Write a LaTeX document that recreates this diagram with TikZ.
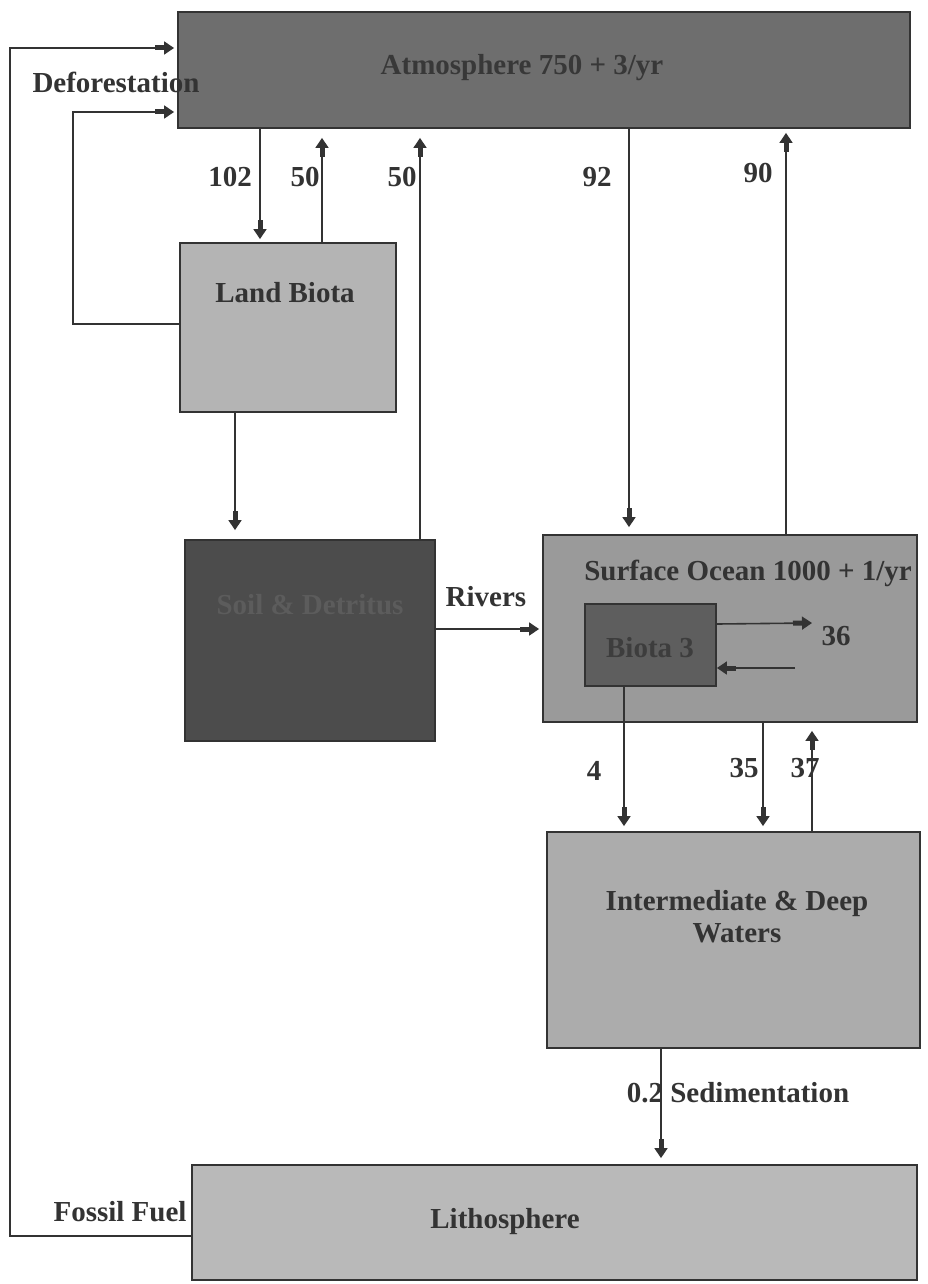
\documentclass[tikz,border=0pt]{standalone}
\usepackage{fontspec}
\setmainfont{Liberation Serif}
\usetikzlibrary{arrows.meta,calc}
\definecolor{atmc}{HTML}{6E6E6E}
\definecolor{lbc}{HTML}{B4B4B4}
\definecolor{soilc}{HTML}{4C4C4C}
\definecolor{soc}{HTML}{9A9A9A}
\definecolor{bioc}{HTML}{5E5E5E}
\definecolor{deepc}{HTML}{ACACAC}
\definecolor{lithc}{HTML}{B9B9B9}
\definecolor{ink}{HTML}{333333}
\begin{document}
\begin{tikzpicture}[x=1pt,y=-1pt,
  box/.style={draw=ink,line width=1.8pt,inner sep=0pt},
  lbl/.style={font=\fontsize{29}{32}\selectfont\bfseries,text=ink,inner sep=0pt},
  arr/.style={line width=1.6pt,draw=ink,
    -{Rectangle[length=9pt,width=5pt,sep=0pt]Triangle[length=10pt,width=13pt]},shorten >=3pt},
  ln/.style={line width=1.6pt,draw=ink}]
\useasboundingbox[fill=white] (0,0) rectangle (928,1284);
% boxes
\node[box,fill=atmc,minimum width=732pt,minimum height=116pt] (atm) at (544,70) {};
\node[box,fill=lbc,minimum width=216pt,minimum height=169pt] (lb) at (288,327.5) {};
\node[box,fill=soilc,minimum width=250pt,minimum height=201pt] (soil) at (310,640.5) {};
\node[box,fill=soc,minimum width=374pt,minimum height=187pt] (so) at (730,628.5) {};
\node[box,fill=bioc,minimum width=131pt,minimum height=82pt] (bio) at (650.5,645) {};
\node[box,fill=deepc,minimum width=373pt,minimum height=216pt] (deep) at (733.5,940) {};
\node[box,fill=lithc,minimum width=725pt,minimum height=115pt] (lith) at (554.5,1222.5) {};
% box texts
\node[lbl,text=black!78] (atmT) at (522,68) {Atmosphere 750 + 3/yr};
\node[lbl] (lbT) at (285,293) {Land Biota};
\node[lbl,text=black!64] (soilT) at (310,605) {Soil \& Detritus};
\node[lbl] (soT) at (748,573) {Surface Ocean 1000 + 1/yr};
\node[lbl,text=black!76] (bioT) at (650,648) {Biota 3};
\node[lbl,align=center] (deepT) at (737,917) {Intermediate \& Deep\\Waters};
\node[lbl] (lithT) at (505,1222) {Lithosphere};
% helper coordinates
\coordinate (ffy) at (0,1236);
\coordinate (ffx) at (10,48);
\coordinate (dfy) at (0,324);
\coordinate (dfx) at (73,112);
\coordinate (c102) at (260,0);
\coordinate (c50a) at (322,0);
\coordinate (c50b) at (420,0);
\coordinate (c92) at (629,0);
\coordinate (c90) at (786,0);
\coordinate (clb) at (235,0);
\coordinate (cr) at (0,629);
\coordinate (bo) at (0,624);
\coordinate (boE) at (812,623);
\coordinate (biE) at (795,668);
\coordinate (c4) at (624,0);
\coordinate (c35) at (763,0);
\coordinate (c37) at (812,0);
\coordinate (csed) at (661,0);
% connectors
\draw[arr] (lith.west |- ffy) -| (ffx) -- (atm.west |- ffx);
\draw[arr] (lb.west |- dfy) -| (dfx) -- (atm.west |- dfx);
\draw[arr] (atm.south -| c102) -- (lb.north -| c102);
\draw[arr,shorten >=9pt] (lb.north -| c50a) -- (atm.south -| c50a);
\draw[arr,shorten >=9pt] (soil.north -| c50b) -- (atm.south -| c50b);
\draw[arr,shorten >=7pt] (atm.south -| c92) -- (so.north -| c92);
\draw[arr,shorten >=4pt] (so.north -| c90) -- (atm.south -| c90);
\draw[arr,shorten >=9pt] (lb.south -| clb) -- (soil.north -| clb);
\draw[arr] (soil.east |- cr) -- (so.west |- cr);
\draw[arr,shorten >=0pt] (bio.east |- bo) -- (boE);
\draw[arr,shorten >=0pt] (biE) -- (bio.east |- biE);
\draw[arr,shorten >=5pt] (bio.south -| c4) -- (deep.north -| c4);
\draw[arr,shorten >=5pt] (so.south -| c35) -- (deep.north -| c35);
\draw[arr,shorten >=8pt] (deep.north -| c37) -- (so.south -| c37);
\draw[arr,shorten >=6pt] (deep.south -| csed) -- (lith.north -| csed);
% connector labels
\node[lbl] (lDef) at (116,82) {Deforestation};
\node[lbl] (l102) at (230,177) {102};
\node[lbl] (l50a) at (305,177) {50};
\node[lbl] (l50b) at (402,177) {50};
\node[lbl] (l92) at (597,177) {92};
\node[lbl] (l90) at (758,173) {90};
\node[lbl] (lRiv) at (486,597) {Rivers};
\node[lbl] (l36) at (836,636) {36};
\node[lbl] (l4) at (594,771) {4};
\node[lbl] (l35) at (744,768) {35};
\node[lbl] (l37) at (805,768) {37};
\node[lbl] (lSed) at (738,1093) {0.2 Sedimentation};
\node[lbl] (lFF) at (120,1212) {Fossil Fuel};
\end{tikzpicture}
\end{document}
